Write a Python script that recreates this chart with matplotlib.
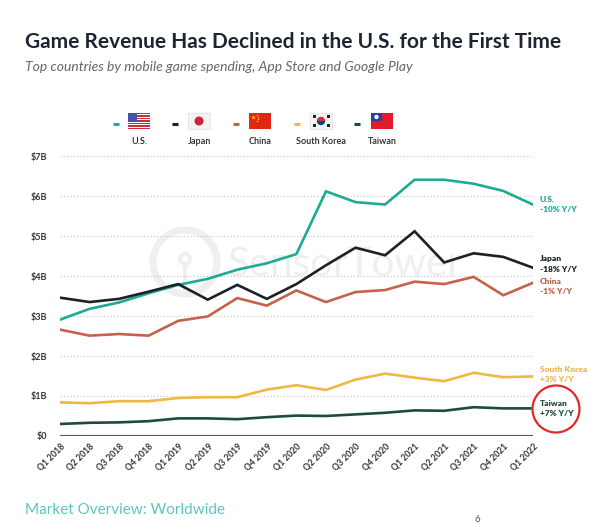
import numpy as np
import matplotlib
matplotlib.use("Agg")
import matplotlib.pyplot as plt
from matplotlib.patches import Rectangle, Circle, Wedge

plt.rcParams['font.family'] = ['Lato', 'DejaVu Sans']

# Quarterly game revenue, $B
quarters = ["Q1 2018", "Q2 2018", "Q3 2018", "Q4 2018",
            "Q1 2019", "Q2 2019", "Q3 2019", "Q4 2019",
            "Q1 2020", "Q2 2020", "Q3 2020", "Q4 2020",
            "Q1 2021", "Q2 2021", "Q3 2021", "Q4 2021", "Q1 2022"]
us = [2.91, 3.18, 3.34, 3.57, 3.78, 3.93, 4.16, 4.32, 4.55,
      6.12, 5.85, 5.79, 6.41, 6.41, 6.31, 6.13, 5.79]
japan = [3.46, 3.35, 3.43, 3.61, 3.80, 3.41, 3.78, 3.43, 3.80,
         4.27, 4.71, 4.52, 5.12, 4.34, 4.57, 4.48, 4.21]
china = [2.66, 2.51, 2.55, 2.51, 2.88, 2.99, 3.45, 3.26, 3.64,
         3.35, 3.60, 3.65, 3.86, 3.80, 3.98, 3.52, 3.83]
south_korea = [0.84, 0.82, 0.87, 0.87, 0.95, 0.97, 0.97, 1.16, 1.27,
               1.15, 1.41, 1.56, 1.46, 1.37, 1.58, 1.47, 1.49]
taiwan = [0.30, 0.33, 0.34, 0.37, 0.44, 0.44, 0.42, 0.47, 0.51,
          0.50, 0.54, 0.58, 0.64, 0.63, 0.72, 0.69, 0.69]

names = ["U.S.", "Japan", "China", "South Korea", "Taiwan"]
yoy = ["-10% Y/Y", "-18% Y/Y", "-1% Y/Y", "+3% Y/Y", "+7% Y/Y"]
colors = ["#1dab96", "#1b2227", "#c4624a", "#eeb843", "#1d4c3c"]
series = [us, japan, china, south_korea, taiwan]
ytick_labels = ["$0", "$1B", "$2B", "$3B", "$4B", "$5B", "$6B", "$7B"]

fig = plt.figure(figsize=(6, 5.24), dpi=100)
ax = fig.add_axes([0.1, 0.168, 0.788, 0.534])

# overlay in pixel coords for decorations
ov = fig.add_axes([0, 0, 1, 1], zorder=-1)
ov.set_xlim(0, 600)
ov.set_ylim(524, 0)
ov.axis("off")

# watermark
wm = "#efefef"
ov.add_patch(Circle((185, 262), 32, fill=False, ec=wm, lw=5))
ov.add_patch(Circle((185, 259), 5, fill=False, ec=wm, lw=3))
ov.plot([185, 185], [264, 292], color=wm, lw=3)
ov.text(228, 264, "SensorTower", fontsize=29, color=wm, va="center", ha="left")

x = np.arange(len(quarters))
for vals, c in zip(series, colors):
    ax.plot(x, vals, color=c, lw=1.9, solid_joinstyle="miter", zorder=3)

ax.set_xlim(0, 16)
ax.set_ylim(0, 7)
ax.set_yticks(range(8))
ax.set_yticklabels(ytick_labels, fontsize=6.5, fontweight="bold", color="#333333")
ax.set_xticks(x)
ax.set_xticklabels(quarters, rotation=45, ha="right", rotation_mode="anchor",
                   fontsize=6.2, fontweight="bold", color="#333333")
ax.tick_params(length=0, pad=4)
ax.tick_params(axis="y", pad=9)
for s in ax.spines.values():
    s.set_visible(False)
for yv in range(1, 8):
    ax.axhline(yv, color="#c4c4c4", lw=0.8, ls=(0, (1, 2)), zorder=1)
ax.axhline(0, color="#555555", lw=1.5, zorder=2)
ax.patch.set_alpha(0)

# end labels
label_y = [199, 259, 281, 369, 403]
for nm, yy, c, ly in zip(names, yoy, colors, label_y):
    ov.text(540, ly, nm, fontsize=6, fontweight="heavy", color=c, va="center", ha="left")
    ov.text(540, ly + 10, yy, fontsize=6, fontweight="heavy", color=c, va="center", ha="left")
circ = Circle((556, 409), 23.5, fill=False, ec="#e8262a", lw=1.6, transform=ov.transData)
fig.add_artist(circ)

# legend with flags
flag_x = [128, 188, 249, 310, 371]
dash_x = [113, 172, 233, 294, 354]
fw, fh, fy = 22, 16, 113
for i, (fx, dx, c, nm) in enumerate(zip(flag_x, dash_x, colors, names)):
    ov.plot([dx, dx + 6], [124, 124], color=c, lw=2.2, solid_capstyle="butt")
    ov.text(fx + fw / 2, 141, nm, fontsize=6.5, fontweight="semibold", color="#222222",
            ha="center", va="center")

# U.S.
fx = flag_x[0]
for k in range(13):
    ov.add_patch(Rectangle((fx, fy + k * fh / 13), fw, fh / 13,
                           color="#c8303a" if k % 2 == 0 else "white", lw=0))
ov.add_patch(Rectangle((fx, fy), fw * 0.42, fh * 7 / 13, color="#4852a6", lw=0))
# Japan
fx = flag_x[1]
ov.add_patch(Rectangle((fx, fy), fw, fh, fc="#f4f4f4", ec="#dddddd", lw=0.5))
ov.add_patch(Circle((fx + fw / 2, fy + fh / 2), 4.5, color="#d0203a", lw=0))
# China
fx = flag_x[2]
ov.add_patch(Rectangle((fx, fy), fw, fh, color="#de2910", lw=0))
ov.scatter([fx + 4], [fy + 4], marker="*", s=12, color="#ffde00", lw=0, zorder=5)
ov.scatter([fx + 7.5, fx + 8.5, fx + 8.5, fx + 7.5], [fy + 2, fy + 3.8, fy + 6, fy + 7.5],
           marker="*", s=3, color="#ffde00", lw=0, zorder=5)
# South Korea
fx = flag_x[3]
ov.add_patch(Rectangle((fx, fy), fw, fh, fc="#f4f4f4", ec="#dddddd", lw=0.5))
cx, cy = fx + fw / 2, fy + fh / 2
ov.add_patch(Wedge((cx, cy), 4.2, 180, 360, color="#cd2e3a", lw=0))
ov.add_patch(Wedge((cx, cy), 4.2, 0, 180, color="#0047a0", lw=0))
for tx, ty in [(fx + 4, fy + 3.5), (fx + 18, fy + 3.5), (fx + 4, fy + 12.5), (fx + 18, fy + 12.5)]:
    ov.add_patch(Rectangle((tx - 1.5, ty - 1.5), 3, 3, color="#222222", lw=0))
# Taiwan
fx = flag_x[4]
ov.add_patch(Rectangle((fx, fy), fw, fh, color="#e21b2c", lw=0))
ov.add_patch(Rectangle((fx, fy), fw / 2, fh / 2, color="#2b3c9c", lw=0))
ov.add_patch(Circle((fx + fw / 4, fy + fh / 4), 2.2, color="white", lw=0))

# titles
fig.text(25 / 600, 1 - 42 / 524, "Game Revenue Has Declined in the U.S. for the First Time",
         fontsize=15, fontweight="bold", color="#1c2630", va="center", ha="left")
fig.text(25 / 600, 1 - 67 / 524, "Top countries by mobile game spending, App Store and Google Play",
         fontsize=10, style="italic", color="#666666", va="center", ha="left")
fig.text(25 / 600, 1 - 510 / 524, "Market Overview: Worldwide",
         fontsize=11, color="#5cc7bb", va="center", ha="left")
fig.text(477 / 600, 1 - 519 / 524, "6", fontsize=7, color="#555555", va="center", ha="center")

fig.savefig("out.png", dpi=100)
